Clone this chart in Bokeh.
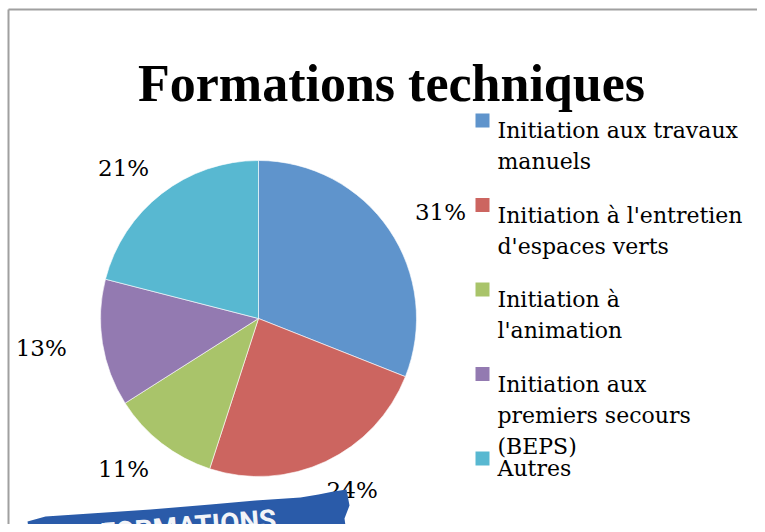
import math
from bokeh.plotting import figure
from bokeh.models import Range1d, ColumnDataSource
from bokeh.core.properties import value
from bokeh.embed import file_html
from bokeh.resources import INLINE

# ---- data ----
title_text = "Formations techniques"
categories = [
    "Initiation aux travaux\nmanuels",
    "Initiation à l'entretien\nd'espaces verts",
    "Initiation à\nl'animation",
    "Initiation aux\npremiers secours\n(BEPS)",
    "Autres",
]
shares = [31, 24, 11, 13, 21]
colors = ["#5F94CC", "#CC6560", "#A9C46A", "#937AB1", "#58B8D1"]
banner_text = "FORMATIONS"

W, H = 757, 524
p = figure(width=W, height=H, output_backend="svg", toolbar_location=None,
           x_range=Range1d(0, W), y_range=Range1d(0, H), min_border=0,
           x_axis_location=None, y_axis_location=None)
p.grid.visible = False
p.outline_line_color = None
p.background_fill_color = "white"
p.border_fill_color = "white"

def Y(y):  # picture pixel y (from top) -> data y
    return H - y

# frame border (top and left)
p.segment(x0=[8, 8], y0=[Y(9), Y(9)], x1=[W + 5, 8], y1=[Y(9), Y(H + 5)],
          line_color="#A0A0A0", line_width=2)

# title
p.text(x=[391], y=[Y(83)], text=[title_text], text_font=value("Liberation Serif"),
       text_font_style="bold", text_font_size="52px", text_align="center",
       text_baseline="alphabetic", text_color="black")

# pie
cx, cy, r = 258, Y(318), 158
rx_lab, ry_lab = 220, 190
total = float(sum(shares))
starts, ends, lx, ly, labels = [], [], [], [], []
cum = 0.0
for v in shares:
    a0 = math.pi / 2 - 2 * math.pi * (cum + v) / total
    a1 = math.pi / 2 - 2 * math.pi * cum / total
    starts.append(a0)
    ends.append(a1)
    mid = (a0 + a1) / 2
    lx.append(cx + rx_lab * math.cos(mid))
    ly.append(cy + ry_lab * math.sin(mid))
    labels.append(f"{v}%")
    cum += v
src = ColumnDataSource(dict(start=starts, end=ends, color=colors))
p.wedge(x=cx, y=cy, radius=r, start_angle="start", end_angle="end",
        fill_color="color", line_color="white", line_width=0.6, source=src)
p.text(x=lx, y=ly, text=labels, text_font=value("DejaVu Serif"),
       text_font_size="23px", text_align="center", text_baseline="middle",
       text_color="black")

# legend (manual, with wrapped lines)
leg_x, leg_top, step, lh = 475, 113, 84.5, 31
sq_x, sq_y, sq_c = [], [], []
tx, ty, tt = [], [], []
for i, (lab, c) in enumerate(zip(categories, colors)):
    top = leg_top + i * step
    sq_x.append(leg_x + 7)
    sq_y.append(Y(top + 7))
    sq_c.append(c)
    for j, line in enumerate(lab.split("\n")):
        tx.append(leg_x + 22)
        ty.append(Y(top + 17 + j * lh))
        tt.append(line)
p.rect(x=sq_x, y=sq_y, width=14, height=14, fill_color=sq_c, line_color=None)
p.text(x=tx, y=ty, text=tt, text_font=value("DejaVu Serif"), text_font_size="22px",
       text_align="left", text_baseline="alphabetic", text_color="black")

# decorative brush banner (bottom-left)
bx = [27, 45, 90, 150, 210, 255, 300, 318, 333, 346, 349, 344, 347, 30]
by = [Y(521), Y(516), Y(513), Y(509), Y(504), Y(500), Y(497), Y(494), Y(491), Y(489),
      Y(505), Y(518), Y(540), Y(540)]
p.patch(x=bx, y=by, fill_color="#2A5BA9", line_color=None)
p.text(x=[100], y=[Y(533)], text=[banner_text],
       text_font=value("Roboto"), text_font_style="bold",
       text_font_size="28px", angle=0.08, text_align="left",
       text_baseline="alphabetic", text_color="#F2F4F8")

open("out.html", "w").write(file_html(p, INLINE))
